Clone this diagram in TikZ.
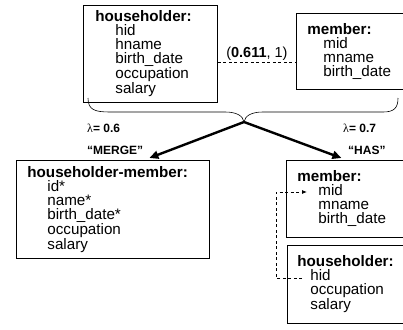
\documentclass[tikz,border=0pt]{standalone}
\usepackage{fontspec}
\setmainfont{Liberation Sans}
\newfontfamily\greekfont{Liberation Serif}
\usetikzlibrary{arrows.meta}
\newcommand{\attrib}[2][20pt]{\hspace*{#1}#2}
\begin{document}
\begin{tikzpicture}[x=1pt,y=-1pt,
  entity/.style={draw,line width=0.8pt,anchor=north west,align=left,inner ysep=0pt,
    font=\fontsize{15.2}{14}\selectfont},
  link/.style={line width=0.8pt,dash pattern=on 3pt off 2.5pt},
  flow/.style={line width=2.4pt,-{Triangle[length=9pt,width=8pt]}},
  note/.style={anchor=west,inner sep=0pt,font=\fontsize{12}{14}\selectfont\bfseries}]
\useasboundingbox (0,0) rectangle (403,329);

% the two source relations
\node[entity,inner xsep=12pt,text width=110pt,minimum height=97pt] (hh) at (83,5)
  {\textbf{householder:}\\ \attrib{hid}\\ \attrib{hname}\\ \attrib{birth\_date}\\
   \attrib{occupation}\\ \attrib{salary}};
\node[entity,inner xsep=11pt,text width=90pt,minimum height=76pt] (mem) at (296,13)
  {\textbf{member:}\\ \attrib[16pt]{mid}\\ \attrib[16pt]{mname}\\ \attrib[16pt]{birth\_date}};
\draw[link] ([yshift=-8.5pt]hh.east) coordinate (l1) -- (l1 -| mem.west)
  node[midway,above=1.5pt,inner sep=0pt,font=\fontsize{14.5}{16}\selectfont] {(\textbf{0.611}, 1)};

% brace over both relations
\coordinate (fork) at (244,122);
\draw[line width=0.6pt] (88,98) .. controls (88,110) and (95,112) .. (110,112) -- (225,112)
  .. controls (237,112) and (243,116) .. (fork);
\draw[line width=0.6pt] (fork) .. controls (245,116) and (251,112) .. (263,112) -- (383,112)
  .. controls (394,112) and (398,108) .. (398,98);

% results
\node[entity,inner xsep=11pt,text width=171pt,minimum height=98pt] (hm) at (16,160)
  {\textbf{householder-member:}\\ \attrib{id*}\\ \attrib{name*}\\ \attrib{birth\_date*}\\
   \attrib{occupation}\\ \attrib{salary}};
\node[entity,inner xsep=11pt,text width=95pt,minimum height=77pt] (mb) at (286,160)
  {\textbf{member:}\\ \attrib[21pt]{mid}\\ \attrib[21pt]{mname}\\ \attrib[21pt]{birth\_date}};
\node[entity,inner xsep=10pt,text width=97pt,minimum height=78pt] (hb) at (287,245)
  {\textbf{householder:}\\ \attrib[13pt]{hid}\\ \attrib[13pt]{occupation}\\ \attrib[13pt]{salary}};

\draw[flow] (fork) -- ([xshift=36.5pt,yshift=2pt]hm.north);
\draw[flow] (fork) -- ([xshift=-3.5pt,yshift=2pt]mb.north);

\node[note] (lam1) at (87,128) {{\greekfont\mdseries λ}= 0.6};
\node[note] (rel1) at (87,150) {“MERGE”};
\node[note] (lam2) at (343,128) {{\greekfont\mdseries λ}= 0.7};
\node[note] (rel2) at (348,150) {“HAS”};

% hid refers to mid
\coordinate (hidend) at (302,278);
\coordinate (midend) at (307,192);
\draw[link,-{Latex[length=5pt,width=4pt]}] (hidend) -- (276,278) |- (midend);
\end{tikzpicture}
\end{document}
